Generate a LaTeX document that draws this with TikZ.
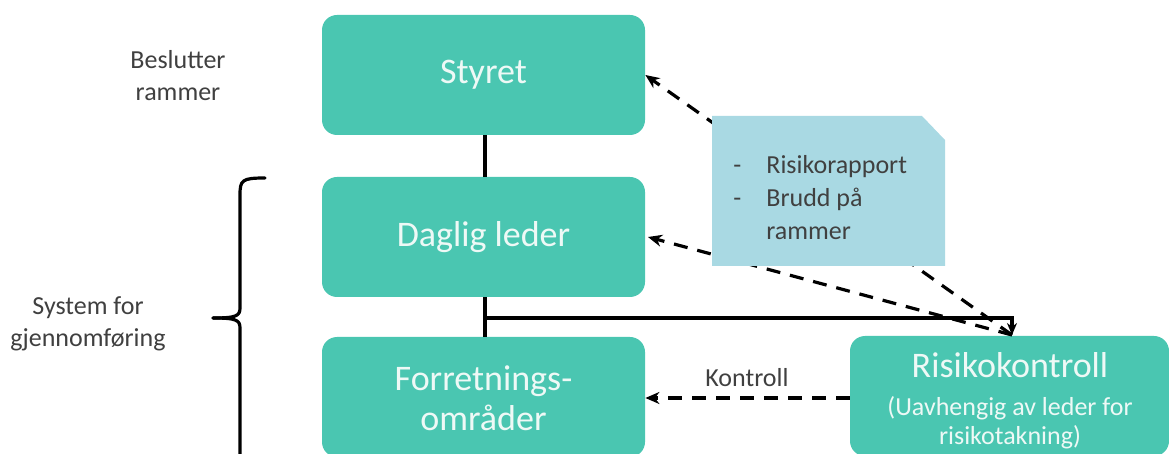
\documentclass[tikz,border=0pt]{standalone}
\usepackage{fontspec}
\setmainfont{Carlito}
\usetikzlibrary{arrows.meta}
\definecolor{teal1}{HTML}{4AC6B1}
\definecolor{note1}{HTML}{A9D9E3}
\definecolor{boxtxt}{HTML}{EEF9F6}
\definecolor{lbl}{HTML}{404040}
\newcommand{\notebullet}{\makebox[16.5pt][l]{-}}
\tikzset{
  box/.style={fill=teal1, rounded corners=7.5pt, minimum width=161.5pt, minimum height=60pt,
    inner sep=0pt, text=boxtxt, font=\fontsize{18pt}{20pt}\selectfont, align=center},
  lbltext/.style={text=lbl, font=\fontsize{13pt}{16pt}\selectfont, align=center, inner sep=0pt},
  conn/.style={line width=1.6pt, black},
  dashconn/.style={line width=1.6pt, black, dash pattern=on 7pt off 5pt},
  tip/.style={-{Stealth[length=7pt,width=6pt]}},
}
\begin{document}
\begin{tikzpicture}[x=0.5pt, y=-0.5pt]
\useasboundingbox (0,0) rectangle (1169,454);
\clip (0,0) rectangle (1169,454);

% coordinates for connector ends
\coordinate (rktop) at (1012,335);
\coordinate (branch) at (485,318);
\coordinate (tick) at (213,318);

% the four organisational boxes
\node[box] (styret) at (483.5,75) {Styret};
\node[box] (daglig) at (483.5,237) {Daglig leder};
\node[box] (forr) at (483.5,397) {};
\node[lbltext, text=boxtxt, font=\fontsize{18pt}{20pt}\selectfont] (forrtxt) at (483.5,398) {Forretnings-\\områder};
\node[box, minimum width=159.5pt] (rk) at (1009.5,396) {};
\node[text=boxtxt, align=center, inner sep=0pt, anchor=north] (rktitle) at (1010,352) {\fontsize{18pt}{20pt}\selectfont Risikokontroll};
\node[text=boxtxt, align=center, inner sep=0pt, anchor=north, font=\fontsize{13pt}{14.5pt}\selectfont] (rksub) at (1010,396) {(Uavhengig av leder for\\risikotakning)};

% dashed report lines run behind the note
\draw[dashconn, tip] (rktop) -- (styret.east |- 0,75) coordinate (se);
\draw[dashconn, tip] (rktop) -- (648,237) coordinate (de);

% note with folded corner
\path[fill=note1] (712,116) -- (922,116) -- (945,140) -- (945,266) -- (712,266) -- cycle;
\node[lbltext, anchor=north west, align=left, font=\fontsize{13pt}{16.5pt}\selectfont] (note) at (733,155)
  {\notebullet Risikorapport\\\notebullet Brudd på\\\hspace*{16.5pt}rammer};

% solid structure lines
\draw[conn] (styret.south -| 485,0) -- (daglig.north -| 485,0);
\draw[conn] (daglig.south -| 485,0) -- (forr.north -| 485,0);
\draw[conn, -{Stealth[length=6pt,width=5pt]}] (branch) -| (rktop);

% control arrow
\draw[dashconn, tip] (rk.west |- 0,398) -- (forr.east |- 0,398);
\node[lbltext] (kontroll) at (747,378) {Kontroll};

% side labels
\node[lbltext] (besl) at (178,76) {Beslutter\\rammer};
\node[lbltext] (system) at (88,324) {System for\\gjennomføring};

% brace
\draw[conn, line cap=round] (265,178) .. controls (242,178) and (240,180) .. (240,195) -- (240,308)
  .. controls (240,316) and (236,318) .. (tick);
\draw[conn, line cap=round] (tick) .. controls (236,318) and (240,320) .. (240,328) -- (240,470);
\end{tikzpicture}
\end{document}
